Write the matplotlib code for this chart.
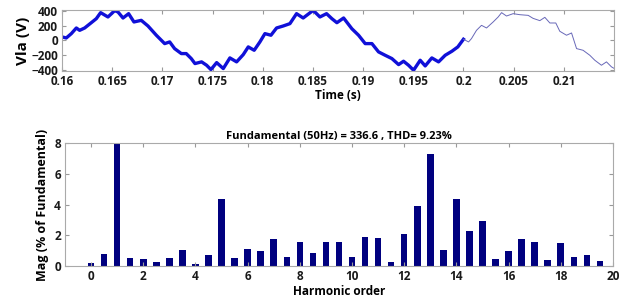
import numpy as np
import matplotlib
matplotlib.use("Agg")
import matplotlib.pyplot as plt

plt.rcParams['font.family'] = ['Open Sans', 'DejaVu Sans']
plt.rcParams['font.weight'] = 'bold'
plt.rcParams['axes.labelweight'] = 'bold'
plt.rcParams['axes.titleweight'] = 'bold'

# voltage waveform: analysed window (thick) and the rest (thin)
t_win = [0.16000, 0.16043, 0.16093, 0.16143, 0.16176, 0.16226, 0.16292, 0.16342,
         0.16385, 0.16458, 0.16525, 0.16558, 0.16608, 0.16664, 0.16717, 0.16790,
         0.16857, 0.16940, 0.17023, 0.17073, 0.17122, 0.17189, 0.17238, 0.17288,
         0.17325, 0.17391, 0.17441, 0.17484, 0.17541, 0.17607, 0.17673, 0.17740,
         0.17806, 0.17856, 0.17915, 0.17972, 0.18022, 0.18082, 0.18138, 0.18204,
         0.18271, 0.18337, 0.18403, 0.18503, 0.18570, 0.18636, 0.18689, 0.18739,
         0.18806, 0.18888, 0.18955, 0.19021, 0.19088, 0.19154, 0.19220, 0.19287,
         0.19354, 0.19403, 0.19453, 0.19503, 0.19569, 0.19619, 0.19685, 0.19752,
         0.19818, 0.19885, 0.19944, 0.20000]
v_win = [48, 34, 93, 170, 138, 170, 242, 297,
         379, 320, 406, 388, 306, 365, 252, 274,
         197, 71, -43, -20, -111, -179, -179, -247,
         -315, -292, -338, -397, -302, -383, -238, -292,
         -193, -88, -134, -20, 93, 71, 170, 197,
         229, 365, 306, 410, 320, 365, 297, 242,
         306, 160, 71, -43, -43, -156, -202, -247,
         -329, -283, -338, -406, -270, -347, -238, -292,
         -202, -147, -88, 16]

t_rest = [0.20000, 0.20051, 0.20080, 0.20130, 0.20180, 0.20230, 0.20296, 0.20346,
          0.20380, 0.20429, 0.20495, 0.20562, 0.20645, 0.20694, 0.20761, 0.20811,
          0.20861, 0.20920, 0.20960, 0.21027, 0.21077, 0.21127, 0.21192, 0.21259,
          0.21309, 0.21375, 0.21425, 0.21475, 0.21500]
v_rest = [16, -20, 25, 138, 206, 170, 252, 320,
          379, 333, 365, 351, 342, 301, 270, 315,
          238, 238, 125, 71, 102, -111, -134, -202,
          -270, -338, -292, -360, -380]

# harmonic spectrum (% of fundamental), bars every half order
orders = np.arange(0, 20, 0.5)
mags = [0.18, 0.76, 100, 0.54, 0.48, 0.24, 0.54, 1.04,
        0.15, 0.69, 4.37, 0.52, 1.08, 1.00, 1.73, 0.61,
        1.56, 0.82, 1.58, 1.58, 0.56, 1.90, 1.84, 0.26,
        2.06, 3.90, 7.29, 1.04, 4.33, 2.27, 2.94, 0.48,
        0.95, 1.73, 1.54, 0.39, 1.49, 0.56, 0.74, 0.35]
title = "Fundamental (50Hz) = 336.6 , THD= 9.23%"

fig = plt.figure(figsize=(6.28, 3.03), dpi=100)
ax1 = fig.add_axes([0.0987, 0.766, 0.879, 0.201])
ax2 = fig.add_axes([0.1035, 0.122, 0.8725, 0.406])

ax1.plot(t_win, v_win, color='#1010d8', lw=2.4)
ax1.plot(t_rest, v_rest, color='#6868b8', lw=0.7)
ax1.set_xlim(0.16, 0.215)
ax1.set_ylim(-415, 415)
ax1.set_xticks(np.arange(0.16, 0.2101, 0.005))
ax1.set_xticklabels(['0.16', '0.165', '0.17', '0.175', '0.18', '0.185',
                     '0.19', '0.195', '0.2', '0.205', '0.21'])
ax1.set_yticks([-400, -200, 0, 200, 400])
ax1.set_xlabel('Time (s)', fontsize=8.5, labelpad=1)
ax1.set_ylabel('Vla (V)', fontsize=11, labelpad=1)

ax2.bar(orders, mags, width=0.25, color='#00007f')
ax2.set_xlim(-1, 20)
ax2.set_ylim(0, 8)
ax2.set_xticks(range(0, 21, 2))
ax2.set_yticks(range(0, 9, 2))
ax2.set_xlabel('Harmonic order', fontsize=8.5, labelpad=1)
ax2.set_ylabel('Mag (% of Fundamental)', fontsize=9, labelpad=4)
ax2.set_title(title, fontsize=8, pad=3)

for ax in (ax1, ax2):
    ax.tick_params(direction='in', top=True, right=True, length=3,
                   labelsize=8.5, colors='#999999', labelcolor='#1a1a1a', pad=3)
    for lab in ax.get_xticklabels() + ax.get_yticklabels():
        lab.set_fontweight('bold')
    for s in ax.spines.values():
        s.set_color('#aaaaaa')
        s.set_linewidth(0.8)

fig.savefig('out.png', dpi=100)
